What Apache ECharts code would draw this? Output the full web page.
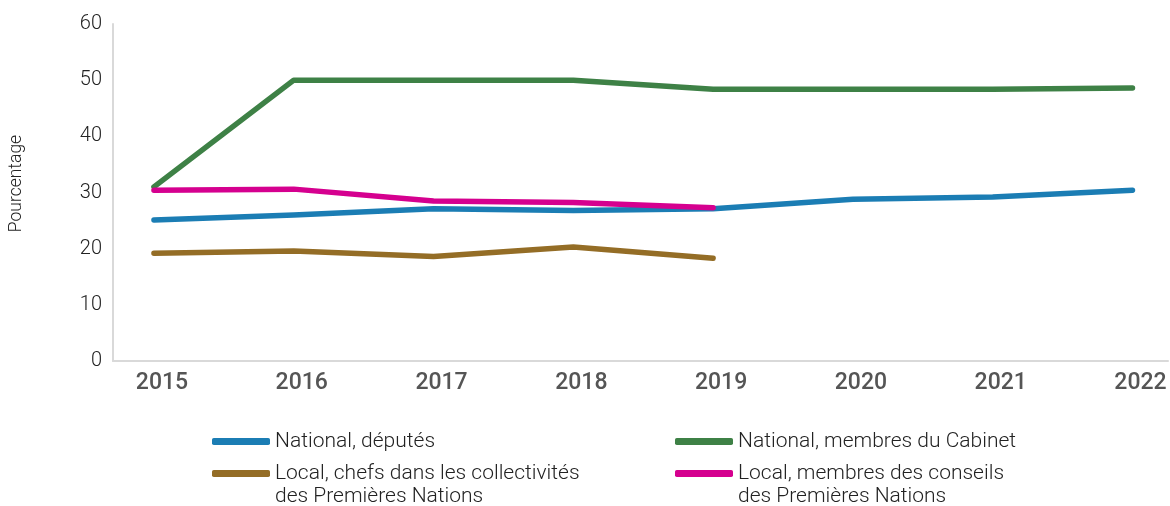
<!DOCTYPE html>
<html>
<head>
<meta charset="utf-8">
<script src="https://cdn.jsdelivr.net/npm/echarts@6/dist/echarts.min.js"></script>
<style>
  html, body { margin: 0; padding: 0; background: #fff; }
  #app { width: 1170px; height: 506px; }
</style>
</head>
<body>
<div id="app"></div>
<script>
const years = [2015, 2016, 2017, 2018, 2019, 2020, 2021, 2022];
const deputes = [25.1, 26.0, 27.1, 26.8, 27.1, 28.8, 29.2, 30.4];
const cabinet = [31.0, 50.0, 50.0, 50.0, 48.4, 48.4, 48.4, 48.6];
const chefs = [19.2, 19.6, 18.6, 20.3, 18.3];
const conseils = [30.4, 30.6, 28.5, 28.2, 27.3];

const names = [
  "National, députés",
  "National, membres du Cabinet",
  "Local, chefs dans les collectivités\ndes Premières Nations",
  "Local, membres des conseils\ndes Premières Nations"
];
const colors = ["#1b7db4", "#3e8146", "#946d26", "#d5008f"];
const values = [deputes, cabinet, chefs, conseils];

const font = "Roboto, 'Noto Sans', sans-serif";

// 基于准备好的dom，初始化echarts实例
const myChart = echarts.init(document.getElementById("app"));

const pairs = (arr) => arr.map((v, i) => [years[i], v]);

// une légende par entrée : deux colonnes placées à la main
const legendPos = [
  { left: 212, top: 430 },
  { left: 675, top: 430 },
  { left: 212, top: 439 },
  { left: 675, top: 439 }
];
const legends = names.map((name, i) => ({
  data: [name],
  left: legendPos[i].left,
  top: legendPos[i].top,
  padding: 0,
  itemWidth: 58,
  itemHeight: 7,
  icon: "roundRect",
  selectedMode: false,
  // ligne vide en tête : le symbole reste aligné sur la première ligne
  formatter: (n) => (n.includes("\n") ? "\n" + n : n),
  textStyle: {
    fontFamily: font,
    fontSize: 21,
    fontWeight: 300,
    color: "#222",
    lineHeight: 23
  }
}));

const option = {
  animation: false,
  grid: { left: 113, right: 2, top: 24, bottom: 145 },
  legend: legends,
  xAxis: {
    type: "value",
    min: 2014.707,
    max: 2022.254,
    axisLine: { show: true, lineStyle: { color: "#d9d9d9", width: 2 } },
    axisTick: { show: false },
    splitLine: { show: false },
    axisLabel: {
      customValues: years,
      formatter: (v) => String(v),
      margin: 11,
      padding: [0, 0, 0, 16],
      fontFamily: font,
      fontSize: 23,
      fontWeight: 500,
      color: "#555"
    }
  },
  yAxis: {
    type: "value",
    min: 0,
    max: 60,
    interval: 10,
    name: "Pourcentage",
    nameLocation: "middle",
    nameGap: 87,
    nameTextStyle: {
      fontFamily: font,
      fontSize: 17.5,
      fontWeight: 300,
      color: "#222",
      padding: [0, 0, 0, 18]
    },
    axisLine: { show: true, lineStyle: { color: "#d9d9d9", width: 2 } },
    axisTick: { show: false },
    splitLine: { show: false },
    axisLabel: {
      margin: 11,
      fontFamily: font,
      fontSize: 20,
      fontWeight: 300,
      color: "#222"
    }
  },
  series: names.map((name, i) => ({
    name: name,
    type: "line",
    data: pairs(values[i]),
    symbol: "none",
    color: colors[i],
    lineStyle: { width: 5.5, cap: "round", join: "round" }
  }))
};

myChart.setOption(option);
</script>
</body>
</html>
